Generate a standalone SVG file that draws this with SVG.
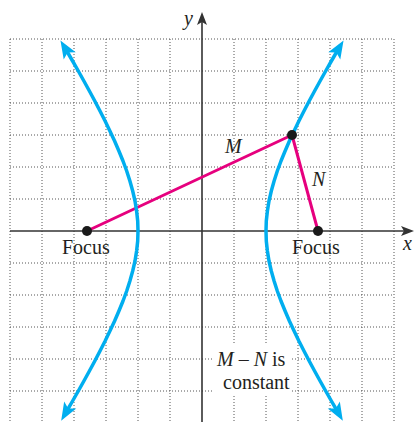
<svg xmlns="http://www.w3.org/2000/svg" width="414" height="422" viewBox="0 0 414 422">
<style>
.grid{stroke:#555;stroke-width:1;stroke-dasharray:1 2;fill:none}
.axis{stroke:#333;stroke-width:1.6;fill:none}
.hyp{stroke:#00AEEF;stroke-width:3.5;fill:none;stroke-linejoin:round}
.seg{stroke:#E6007E;stroke-width:3;fill:none;stroke-linejoin:round}
.dot{fill:#1a1a1a}
text{font-family:"Liberation Serif","Times New Roman",serif;font-size:20px;fill:#231f20}
.it{font-style:italic}
</style>
<defs>
<marker id="blueArrow" markerUnits="userSpaceOnUse" viewBox="-20 -10 30 20" markerWidth="30" markerHeight="20" refX="0" refY="0" orient="auto-start-reverse">
<path d="M10,0 L-8,-7 L-4,0 L-8,7 Z" fill="#00AEEF"/>
</marker>
<marker id="axisArrow" markerUnits="userSpaceOnUse" viewBox="-20 -10 30 20" markerWidth="30" markerHeight="20" refX="0" refY="0" orient="auto">
<path d="M9,0 L-4,-5 L-1,0 L-4,5 Z" fill="#333"/>
</marker>
</defs>
<rect width="414" height="422" fill="#fff"/>
<g id="grid">
<path class="grid" d="M10,39V422M42,39V422M74,39V422M106,39V422M138,39V422M170,39V422M234,39V422M266,39V422M298,39V422M330,39V422M362,39V422M394,39V422"/>
<path class="grid" d="M10,39H394M10,71H394M10,103H394M10,135H394M10,167H394M10,199H394M10,263H394M10,295H394M10,327H394M10,359H394M10,391H394"/>
</g>
<rect x="214" y="345" width="78" height="49" fill="#fff"/>
<g id="axes">
<path class="axis" d="M10,231H405" marker-end="url(#axisArrow)"/>
<path class="axis" d="M202,422V21" marker-end="url(#axisArrow)"/>
<text class="it" x="184" y="25">y</text>
<text class="it" x="403" y="250">x</text>
</g>
<g id="connectors">
<path class="seg" d="M87,231 L292,135 L318,231"/>
</g>
<g id="hyperbola-right">
<path class="hyp" marker-start="url(#blueArrow)" marker-end="url(#blueArrow)" d="M338.4,49 L337.2,51 L331.4,61 L325.7,71 L320.1,81 L314.6,91 L309.2,101 L304.0,111 L298.9,121 L294.1,131 L289.4,141 L285.1,151 L281.0,161 L277.3,171 L274.1,181 L271.3,191 L269.0,201 L267.4,211 L266.3,221 L266.0,231 L266.3,241 L267.4,251 L269.0,261 L271.3,271 L274.1,281 L277.3,291 L281.0,301 L285.1,311 L289.4,321 L294.1,331 L298.9,341 L304.0,351 L309.2,361 L314.6,371 L320.1,381 L325.7,391 L331.4,401 L337.8,412"/>
</g>
<g id="hyperbola-left">
<path class="hyp" marker-start="url(#blueArrow)" marker-end="url(#blueArrow)" d="M65.6,49 L66.8,51 L72.6,61 L78.3,71 L83.9,81 L89.4,91 L94.8,101 L100.0,111 L105.1,121 L109.9,131 L114.6,141 L118.9,151 L123.0,161 L126.7,171 L129.9,181 L132.7,191 L135.0,201 L136.6,211 L137.7,221 L138.0,231 L137.7,241 L136.6,251 L135.0,261 L132.7,271 L129.9,281 L126.7,291 L123.0,301 L118.9,311 L114.6,321 L109.9,331 L105.1,341 L100.0,351 L94.8,361 L89.4,371 L83.9,381 L78.3,391 L72.6,401 L66.2,412"/>
</g>
<g id="focus-left">
<circle class="dot" cx="87" cy="231" r="5"/>
<text x="62" y="254">Focus</text>
</g>
<g id="focus-right">
<circle class="dot" cx="318" cy="231" r="5"/>
<text x="292" y="254">Focus</text>
</g>
<g id="point">
<circle class="dot" cx="292" cy="135" r="5"/>
</g>
<g id="labels">
<text class="it" x="225" y="153">M</text>
<text class="it" x="312" y="186">N</text>
<text x="217" y="366"><tspan class="it">M</tspan> – <tspan class="it">N</tspan> is</text>
<text x="223" y="389">constant</text>
</g>
</svg>
